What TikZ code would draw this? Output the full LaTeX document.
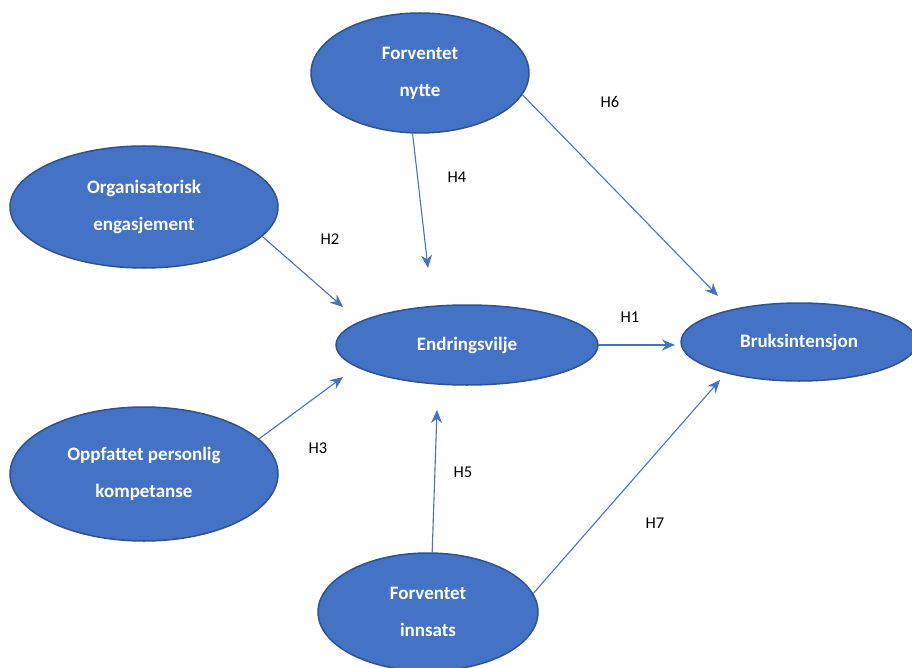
\documentclass[tikz,border=0pt]{standalone}
\usepackage{fontspec}
\setmainfont{Carlito}
\usetikzlibrary{shapes.geometric,arrows.meta}
\definecolor{fillblue}{HTML}{4472C4}
\definecolor{edgeblue}{HTML}{2F528F}
\tikzset{
  oval/.style={ellipse, draw=edgeblue, fill=fillblue, line width=1.5pt, inner sep=0pt,
    text=white, font=\fontsize{19}{37}\selectfont\bfseries, align=center},
  arr/.style={draw=fillblue, line width=1.1pt, -{Stealth[length=13pt,width=11pt]}},
  hlab/.style={font=\fontsize{16.5}{20}\selectfont, text=black}
}
\begin{document}
\begin{tikzpicture}[x=1pt,y=-1pt]
\useasboundingbox (0,0) rectangle (912,668);
\node[oval, minimum width=218pt, minimum height=120pt] (nytte) at (420,73) {Forventet\\nytte};
\node[oval, minimum width=268pt, minimum height=122pt] (org) at (144,207) {Organisatorisk\\engasjement};
\node[oval, minimum width=262pt, minimum height=80pt] (endr) at (467,345) {Endringsvilje};
\node[oval, minimum width=236pt, minimum height=78pt] (bruk) at (799,342) {Bruksintensjon};
\node[oval, minimum width=268pt, minimum height=134pt] (opp) at (144,474) {Oppfattet personlig\\kompetanse};
\node[oval, minimum width=220pt, minimum height=118pt] (inn) at (428,612) {Forventet\\innsats};

\coordinate (e4) at (428,268);
\coordinate (e6) at (718,296);
\coordinate (e2) at (343,307);
\coordinate (e1) at (675,345);
\coordinate (e3) at (343,377);
\coordinate (e5) at (437,410);
\coordinate (e7) at (720,380);

\draw[arr] (nytte.-97) -- (e4);
\draw[arr] (nytte.-12) -- (e6);
\draw[arr] (org.-14) -- (e2);
\draw[arr] (endr.east) -- (e1);
\draw[arr] (opp.17) -- (e3);
\draw[arr] (inn.86) -- (e5);
\draw[arr] (inn.10) -- (e7);

\node[hlab] (h4) at (457,177) {H4};
\node[hlab] (h6) at (610,102) {H6};
\node[hlab] (h2) at (330,239) {H2};
\node[hlab] (h1) at (630,317) {H1};
\node[hlab] (h3) at (318,448) {H3};
\node[hlab] (h5) at (463,472) {H5};
\node[hlab] (h7) at (655,523) {H7};
\end{tikzpicture}
\end{document}
